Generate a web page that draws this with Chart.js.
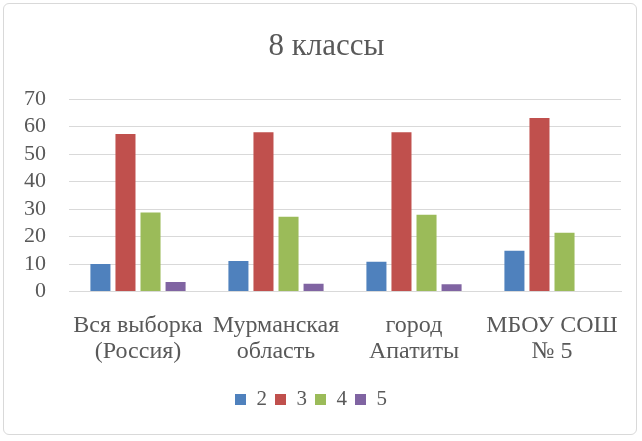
<!DOCTYPE html>
<html>
<head>
<meta charset="utf-8">
<script src="https://cdn.jsdelivr.net/npm/chart.js@4"></script>
<style>
  html, body { margin: 0; padding: 0; background: #fff; }
  #wrap {
    position: absolute; left: 3px; top: 3px;
    width: 634px; height: 432px;
    border: 1px solid #d9d9d9; border-radius: 6px;
    box-sizing: border-box;
  }
</style>
</head>
<body>
<div id="wrap"><canvas id="chart"></canvas></div>
<script>
// категории и значения (проценты)
const categories = [
  ['Вся выборка', '(Россия)'],
  ['Мурманская', 'область'],
  ['город', 'Апатиты'],
  ['МБОУ СОШ', '№ 5']
];
const grade2 = [10, 11.1, 10.9, 14.9];
const grade3 = [57.3, 58, 58, 63.2];
const grade4 = [28.8, 27.2, 28, 21.4];
const grade5 = [3.5, 2.9, 2.7, 0];
const seriesNames = ['2', '3', '4', '5'];
const yTicks = [0, 10, 20, 30, 40, 50, 60, 70];

const colors = ['#4f81bd', '#c0504d', '#9bbb59', '#8064a2'];
const font = 'Liberation Serif, Times New Roman, serif';

// в оригинале заголовок чуть правее центра
const shiftTitle = {
    id: 'shiftTitle',
    afterLayout: chart => {
        if (chart.titleBlock) chart.titleBlock.left += 31;
    }
};

const ctx = document.getElementById('chart').getContext('2d');
new Chart(ctx, {
    type: 'bar',
    data: {
        labels: categories,
        datasets: [grade2, grade3, grade4, grade5].map((d, i) => ({
            label: seriesNames[i],
            data: d,
            backgroundColor: colors[i],
            barPercentage: 0.8,
            categoryPercentage: 0.726
        }))
    },
    plugins: [shiftTitle],
    options: {
        responsive: true,
        maintainAspectRatio: false,
        animation: false,
        layout: { padding: { left: -3, right: 15, top: 0, bottom: 14 } },
        plugins: {
            title: {
                display: true,
                text: '8 классы',
                color: '#595959',
                font: { family: font, size: 31, weight: 'normal' },
                padding: { top: 24, bottom: 34 }
            },
            legend: {
                position: 'bottom',
                labels: {
                    color: '#595959',
                    font: { family: font, size: 21 },
                    boxWidth: 11,
                    boxHeight: 11,
                    padding: 8
                }
            },
            tooltip: { enabled: false }
        },
        scales: {
            x: {
                grid: { display: false },
                border: { color: '#d9d9d9', width: 1 },
                afterFit: scale => { scale.height += 3; },
                ticks: {
                    color: '#595959',
                    font: { family: font, size: 24, lineHeight: 1.05 },
                    maxRotation: 0,
                    autoSkip: false,
                    padding: 14
                }
            },
            y: {
                min: 0,
                max: 70,
                afterBuildTicks: axis => { axis.ticks = yTicks.map(v => ({ value: v })); },
                grid: { color: '#d9d9d9', lineWidth: 1, drawTicks: false },
                border: { display: false },
                ticks: {
                    color: '#595959',
                    font: { family: font, size: 22 },
                    padding: 23,
                    autoSkip: false
                }
            }
        }
    }
});
</script>
</body>
</html>
